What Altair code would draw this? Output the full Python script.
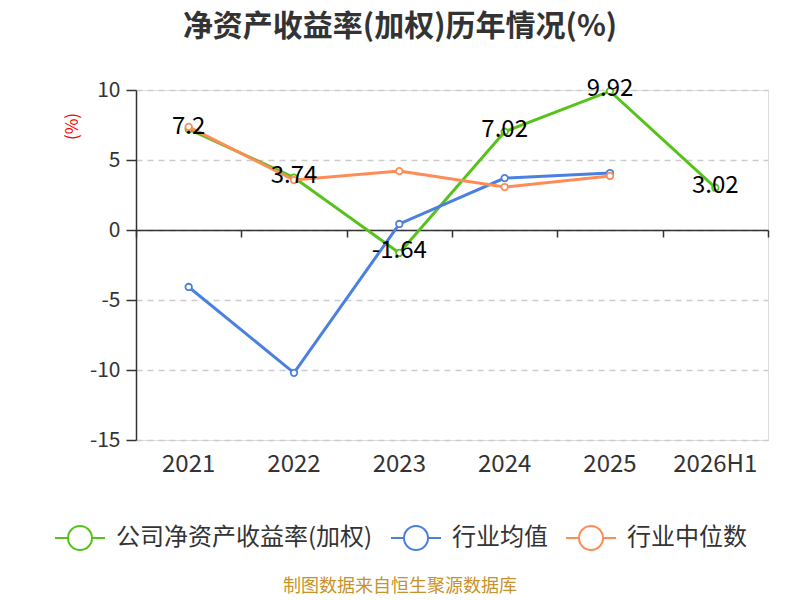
import altair as alt
import pandas as pd

years = ["2021", "2022", "2023", "2024", "2025", "2026H1"]
company = [7.2, 3.74, -1.64, 7.02, 9.92, 3.02]
ind_avg = [-4.07, -10.2, 0.43, 3.71, 4.07, None]
ind_med = [7.36, 3.57, 4.21, 3.07, 3.86, None]
series_names = ["公司净资产收益率(加权)", "行业均值", "行业中位数"]
series_colors = ["#58c21c", "#4b80e0", "#ff8c57"]
y_ticks = [-15, -10, -5, 0, 5, 10]
title_text = "净资产收益率(加权)历年情况(%)"
source_text = "制图数据来自恒生聚源数据库"
unit_text = "(%)"

FONT = "Noto Sans CJK SC"

rows = []
for name, vals in zip(series_names, [company, ind_avg, ind_med]):
    for y, v in zip(years, vals):
        if v is not None:
            rows.append({"year": y, "value": v, "series": name,
                         "label": f"{v:g}"})
df = pd.DataFrame(rows)

color_scale = alt.Scale(domain=series_names, range=series_colors)
x_scale = alt.Scale(domain=years, paddingInner=0, paddingOuter=0)
y_scale = alt.Scale(domain=[-15, 10], nice=False, zero=False)

legend_symbol = ("M-1,0L-0.48,0M0.48,0L1,0M-0.48,0A0.48,0.48,0,1,1,0.48,0"
                 "A0.48,0.48,0,1,1,-0.48,0")

x_labels_axis = alt.Axis(orient="bottom", domain=False, ticks=False,
                         grid=False, labelAngle=0, labelFontSize=24,
                         labelFontWeight="normal",
                         labelColor="#333333", labelFont=FONT,
                         labelPadding=12)
x_main = alt.X("year:N", scale=x_scale, sort=years, title=None, axis=None)
x_first = alt.X("year:N", scale=x_scale, sort=years, title=None,
                axis=x_labels_axis)
y_main = alt.Y("value:Q", scale=y_scale,
               axis=alt.Axis(values=y_ticks, title=unit_text,
                             labelExpr="'' + datum.value",
                             titleColor="#ff0000", titleFontSize=17,
                             titleFont=FONT, titleFontWeight="normal",
                             titleAngle=270, titleX=-64, titleY=36,
                             titleAlign="center", titleBaseline="middle",
                             domainColor="#333333", domainWidth=1.5,
                             tickColor="#333333", tickSize=10, tickWidth=1.5,
                             labelFontSize=21, labelColor="#333333",
                             labelFontWeight="normal",
                             labelFont=FONT, labelPadding=6,
                             grid=True, gridDash=[6, 5], gridColor="#cccccc",
                             gridWidth=1.5))

base = alt.Chart(df)

# zero axis line with band-edge ticks
zero_axis = base.mark_line(opacity=0).encode(
    x=alt.X("year:N", scale=x_scale, sort=years, title=None,
            axis=alt.Axis(orient="bottom", offset=-210, labels=False,
                          domain=True, domainColor="#333333", domainWidth=1.5,
                          ticks=True, tickBand="extent", tickSize=7,
                          tickColor="#333333", tickWidth=1.5, grid=False)),
    y=y_main,
)

layers = []
for i, name in enumerate(series_names):
    sub = base.transform_filter(alt.datum.series == name)
    line = sub.mark_line(strokeWidth=3).encode(
        x=x_first if i == 0 else x_main, y=y_main,
        color=alt.Color("series:N", scale=color_scale, sort=series_names,
                        title=None,
                        legend=alt.Legend(orient="none", direction="horizontal",
                                          legendX=-82, legendY=422,
                                          symbolType=legend_symbol,
                                          symbolSize=2500, symbolStrokeWidth=2,
                                          symbolFillColor="white",
                                          labelFontSize=24, labelFont=FONT,
                                          labelColor="#333333", labelOffset=10,
                                          labelLimit=0,
                                          columnPadding=14, padding=0)),
    )
    pts = sub.mark_point(shape="circle", filled=True, fill="white", size=42,
                         strokeWidth=1.8, opacity=1).encode(
        x=x_main, y=y_main,
        stroke=alt.Stroke("series:N", scale=color_scale, legend=None),
    )
    layers += [line, pts]

labels = base.transform_filter(alt.datum.series == series_names[0]).mark_text(
    fontSize=24, font=FONT, color="#000000", baseline="middle", dy=-2
).encode(x=x_main, y=y_main, text="label:N")

source = alt.Chart(pd.DataFrame({"t": [source_text]})).mark_text(
    fontSize=18, font=FONT, color="#c8922a", align="center", baseline="middle"
).encode(x=alt.value(264), y=alt.value(497), text="t:N")

chart = alt.layer(zero_axis, *layers, labels, source).resolve_axis(
    x="independent"
).properties(
    width=632, height=350,
    autosize=alt.AutoSizeParams(type="none"),
    padding={"left": 128, "top": 82, "right": 24, "bottom": 160},
    title=alt.TitleParams(title_text, anchor="middle", dx=-52, offset=35,
                          fontSize=30, font=FONT, fontWeight="bold",
                          color="#333333"),
).configure_view(strokeWidth=0).configure(background="white")

chart.save("out.html", embed_options={"renderer": "svg", "actions": False})
